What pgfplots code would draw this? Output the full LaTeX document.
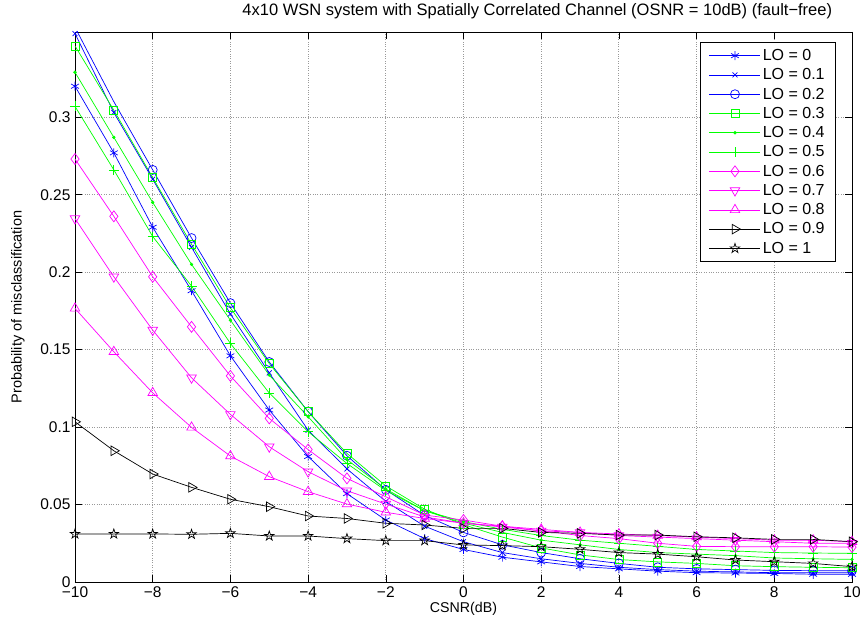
\documentclass[border=0pt]{standalone}
\usepackage{fontspec}
\setmainfont{Liberation Sans}
\usepackage{pgfplots}
\usepackage{pgfplotstable}
\pgfplotsset{compat=1.18}
\pgfdeclareplotmark{pentagram}{%
\pgfpathmoveto{\pgfpointpolar{90}{\pgfplotmarksize}}%
\pgfpathlineto{\pgfpointpolar{126}{0.382\pgfplotmarksize}}%
\pgfpathlineto{\pgfpointpolar{162}{\pgfplotmarksize}}%
\pgfpathlineto{\pgfpointpolar{198}{0.382\pgfplotmarksize}}%
\pgfpathlineto{\pgfpointpolar{234}{\pgfplotmarksize}}%
\pgfpathlineto{\pgfpointpolar{270}{0.382\pgfplotmarksize}}%
\pgfpathlineto{\pgfpointpolar{306}{\pgfplotmarksize}}%
\pgfpathlineto{\pgfpointpolar{342}{0.382\pgfplotmarksize}}%
\pgfpathlineto{\pgfpointpolar{18}{\pgfplotmarksize}}%
\pgfpathlineto{\pgfpointpolar{54}{0.382\pgfplotmarksize}}%
\pgfpathclose\pgfusepathqstroke}
\definecolor{mblue}{rgb}{0,0,1}
\definecolor{mgreen}{rgb}{0,1,0}
\definecolor{mmag}{rgb}{1,0,1}
\pgfplotstableread{
x    a      b      c      d      e      f      g      h      i      j      k
-10  0.320  0.354  0.358  0.346  0.329  0.307  0.273  0.2346 0.1766 0.1034 0.0310
-9   0.277  0.303  0.310  0.3045 0.287  0.266  0.236  0.197  0.1486 0.0847 0.0310
-8   0.229  0.260  0.266  0.261  0.245  0.223  0.197  0.1626 0.1221 0.0697 0.0310
-7   0.188  0.216  0.222  0.218  0.205  0.191  0.1647 0.1318 0.0998 0.0611 0.0308
-6   0.146  0.173  0.180  0.177  0.169  0.154  0.133  0.1082 0.0813 0.0534 0.0314
-5   0.111  0.135  0.142  0.141  0.1335 0.122  0.1056 0.0873 0.068  0.0486 0.0297
-4   0.081  0.098  0.110  0.110  0.1067 0.097  0.0855 0.0712 0.0583 0.0426 0.0297
-3   0.057  0.073  0.0815 0.083  0.079  0.0765 0.0669 0.0589 0.0503 0.041  0.0280
-2   0.040  0.052  0.0595 0.062  0.060  0.059  0.055  0.0503 0.045  0.0379 0.0267
-1   0.028  0.036  0.043  0.047  0.046  0.046  0.0432 0.042  0.041  0.0368 0.0267
0    0.021  0.026  0.032  0.037  0.038  0.039  0.040  0.038  0.038  0.0346 0.0239
1    0.016  0.019  0.024  0.029  0.032  0.034  0.036  0.0355 0.036  0.0346 0.0235
2    0.013  0.015  0.019  0.022  0.027  0.030  0.033  0.033  0.034  0.032  0.0228
3    0.010  0.012  0.015  0.0175 0.024  0.027  0.030  0.032  0.032  0.0314 0.0211
4    0.0085 0.0095 0.012  0.0145 0.021  0.025  0.028  0.030  0.031  0.0303 0.0190
5    0.007  0.008  0.0095 0.013  0.019  0.023  0.025  0.029  0.030  0.0303 0.0180
6    0.006  0.007  0.0085 0.012  0.018  0.021  0.023  0.028  0.029  0.0292 0.0163
7    0.0058 0.0065 0.008  0.0105 0.017  0.020  0.0228 0.027  0.028  0.0285 0.0142
8    0.0055 0.006  0.0075 0.0099 0.0155 0.019  0.0228 0.026  0.027  0.0275 0.0131
9    0.005  0.006  0.0073 0.0095 0.015  0.0187 0.0228 0.025  0.027  0.0275 0.0120
10   0.005  0.006  0.0072 0.0092 0.0146 0.0185 0.0225 0.025  0.026  0.026  0.0099
}\data
\begin{document}
\begin{tikzpicture}
\begin{axis}[
  scale only axis, width=777pt, height=550pt,
  xmin=-10, xmax=10, ymin=0, ymax=0.355,
  xtick={-10,-8,...,10},
  xticklabels={−10,−8,−6,−4,−2,0,2,4,6,8,10},
  ytick={0,0.05,0.1,0.15,0.2,0.25,0.3},
  yticklabels={0,0.05,0.1,0.15,0.2,0.25,0.3},
  tick label style={font=\fontsize{15.5}{18}\selectfont},
  x tick label style={yshift=-1pt},
  y tick label style={xshift=-1pt},
  tick align=inside, major tick length=7pt,
  grid=major, major grid style={dotted, line width=0.9pt, gray!80},
  axis line style={line width=0.7pt},
  every tick/.style={black, line width=0.6pt},
  title={4x10 WSN system with Spatially Correlated Channel (OSNR = 10dB) (fault−free)},
  title style={font=\fontsize{16.5}{18}\selectfont, at={(axis description cs:0.595,1.0)}, anchor=base, yshift=10pt},
  xlabel={CSNR(dB)},
  xlabel style={font=\fontsize{14.2}{16}\selectfont, at={(axis description cs:0.5,-0.049)}, anchor=center},
  ylabel={Probability of misclassification},
  ylabel style={font=\fontsize{14.5}{16}\selectfont, at={(axis description cs:-0.0734,0.5)}, anchor=center, rotate=0},
  legend style={at={(1,1)}, anchor=north east, xshift=-16pt, yshift=-10pt,
    font=\fontsize{16}{19}\selectfont, line width=0.7pt,
    row sep=2.6pt, inner xsep=9pt, inner ysep=5pt, cells={anchor=west}},
  legend image code/.code={\draw[mark repeat=2,mark phase=2] plot coordinates {(0pt,0pt) (25.5pt,0pt) (51pt,0pt)};},
  every axis plot/.append style={line width=0.7pt},
  mark size=4.5pt,
]
\addplot[mblue, mark=asterisk] table[x=x,y=a] {\data};
\addlegendentry{LO = 0}
\addplot[mblue, mark=x, mark size=3.5pt] table[x=x,y=b] {\data};
\addlegendentry{LO = 0.1}
\addplot[mblue, mark=o, mark indices={2,3,4,5,6,7,8,9,10,11,12,13,14,15,16,17,18,19,20,21},
  legend image code/.code={\draw plot[mark indices={2}] coordinates {(0pt,0pt) (25.5pt,0pt) (51pt,0pt)};}] table[x=x,y=c] {\data};
\addlegendentry{LO = 0.2}
\addplot[mgreen, mark=square, mark size=4pt] table[x=x,y=d] {\data};
\addlegendentry{LO = 0.3}
\addplot[mgreen, mark=*, mark size=1.3pt] table[x=x,y=e] {\data};
\addlegendentry{LO = 0.4}
\addplot[mgreen, mark=+, mark size=5pt] table[x=x,y=f] {\data};
\addlegendentry{LO = 0.5}
\addplot[mmag, mark=diamond, mark size=5.5pt] table[x=x,y=g] {\data};
\addlegendentry{LO = 0.6}
\addplot[mmag, mark=triangle, mark size=5.5pt, every mark/.append style={rotate=180}] table[x=x,y=h] {\data};
\addlegendentry{LO = 0.7}
\addplot[mmag, mark=triangle, mark size=5.5pt] table[x=x,y=i] {\data};
\addlegendentry{LO = 0.8}
\addplot[black, mark=triangle, mark size=5.5pt, every mark/.append style={rotate=-90}] table[x=x,y=j] {\data};
\addlegendentry{LO = 0.9}
\addplot[black, mark=pentagram, mark size=5pt] table[x=x,y=k] {\data};
\addlegendentry{LO = 1}
\end{axis}
\pgfresetboundingbox
\path[use as bounding box] ([xshift=-75pt,yshift=-43pt]current axis.south west) rectangle ([xshift=13pt,yshift=32pt]current axis.north east);
\end{tikzpicture}
\end{document}
